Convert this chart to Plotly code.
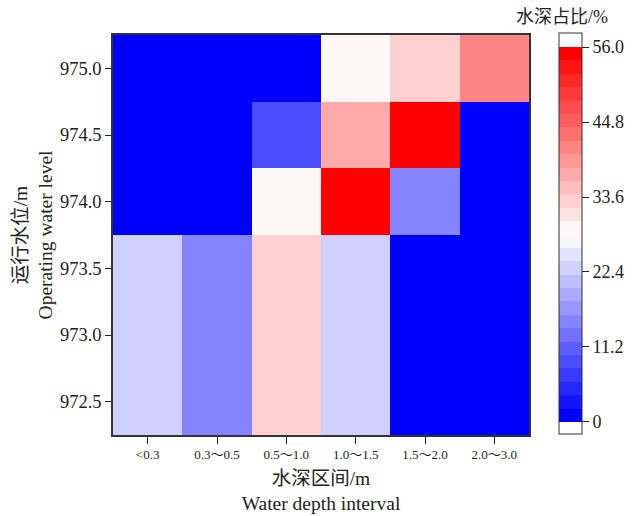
import plotly.graph_objects as go

depth_intervals = ["<0.3", "0.3～0.5", "0.5～1.0", "1.0～1.5", "1.5～2.0", "2.0～3.0"]
water_levels = [972.5, 973.0, 973.5, 974.0, 974.5, 975.0]
share_972_5 = [23.5, 15.5, 33.5, 23.5, 0.0, 0.0]
share_973_0 = [23.5, 15.5, 33.5, 23.5, 0.0, 0.0]
share_973_5 = [23.5, 15.5, 33.5, 23.5, 0.0, 0.0]
share_974_0 = [0.0, 0.0, 28.5, 55.0, 15.5, 0.0]
share_974_5 = [0.0, 0.0, 8.5, 36.5, 55.0, 0.0]
share_975_0 = [0.0, 0.0, 0.0, 28.5, 32.5, 40.5]
cbar_ticks = [0, 11.2, 22.4, 33.6, 44.8, 56.0]
cbar_labels = ["0", "11.2", "22.4", "33.6", "44.8", "56.0"]

z = [share_972_5, share_973_0, share_973_5, share_974_0, share_974_5, share_975_0]

# discrete blue-white-red colour scale, 28 bands of width 2 from 0 to 56
zmin, zmax = -1.8, 58.1
nb = 28
step = 56 / nb

def bwr(t):
    if t <= 0.5:
        v = int(round(255 * 2 * t))
        return f"rgb({v},{v},255)"
    v = int(round(255 * 2 * (1 - t)))
    return f"rgb(255,{v},{v})"

def norm(v):
    return (v - zmin) / (zmax - zmin)

cs = [[0, "white"], [norm(0), "white"]]
for i in range(nb):
    c = bwr(i / (nb - 1))
    cs.append([norm(i * step), c])
    cs.append([norm((i + 1) * step), c])
cs.append([norm(56), "white"])
cs.append([1, "white"])

font_main = "Liberation Serif, Noto Sans CJK SC, serif"
L, R, T, B = 113, 107, 35, 81
PW, PH = 636 - L - R, 516 - T - B

fig = go.Figure(go.Heatmap(
    x=depth_intervals, y=water_levels, z=z,
    zmin=zmin, zmax=zmax, colorscale=cs, xgap=0, ygap=0,
    colorbar=dict(
        x=(559 - L) / PW, xanchor="left", xpad=0,
        y=(516 - B - 33) / PH, yanchor="top", ypad=0,
        lenmode="pixels", len=401,
        thickness=23, outlinewidth=1, outlinecolor="#333",
        tickvals=cbar_ticks, ticktext=cbar_labels,
        ticks="outside", ticklen=7, tickcolor="#222",
        tickfont=dict(family=font_main, size=18, color="#222"),
    ),
))

fig.add_annotation(
    text="水深占比/%", xref="paper", yref="paper",
    x=(562 - L) / PW, y=(516 - B - 17) / PH, xanchor="center", yanchor="middle",
    showarrow=False, font=dict(family=font_main, size=18, color="#222"),
)

fig.update_layout(
    width=636, height=516,
    margin=dict(l=L, r=R, t=T, b=B, autoexpand=False),
    paper_bgcolor="white", plot_bgcolor="white",
    font=dict(family=font_main, color="#222"),
    xaxis=dict(
        type="category", range=[-0.5, 5.5],
        showline=True, mirror=True, linecolor="#333", linewidth=1.5,
        ticks="outside", ticklen=7, tickcolor="#222",
        tickfont=dict(size=13),
        title=dict(text="水深区间/m<br>Water depth interval", font=dict(size=19.5), standoff=10),
    ),
    yaxis=dict(
        range=[972.25, 975.25], tickvals=water_levels, tickformat=".1f",
        showline=True, mirror=True, linecolor="#333", linewidth=1.5,
        ticks="outside", ticklen=6, tickcolor="#222",
        tickfont=dict(size=18.5),
        title=dict(text="运行水位/m<br>Operating water level", font=dict(size=19.5), standoff=2),
    ),
)

fig.write_html(
    "out.html",
    config={"displayModeBar": False},
    post_script="document.body.style.margin='0';document.body.style.padding='0';",
)
